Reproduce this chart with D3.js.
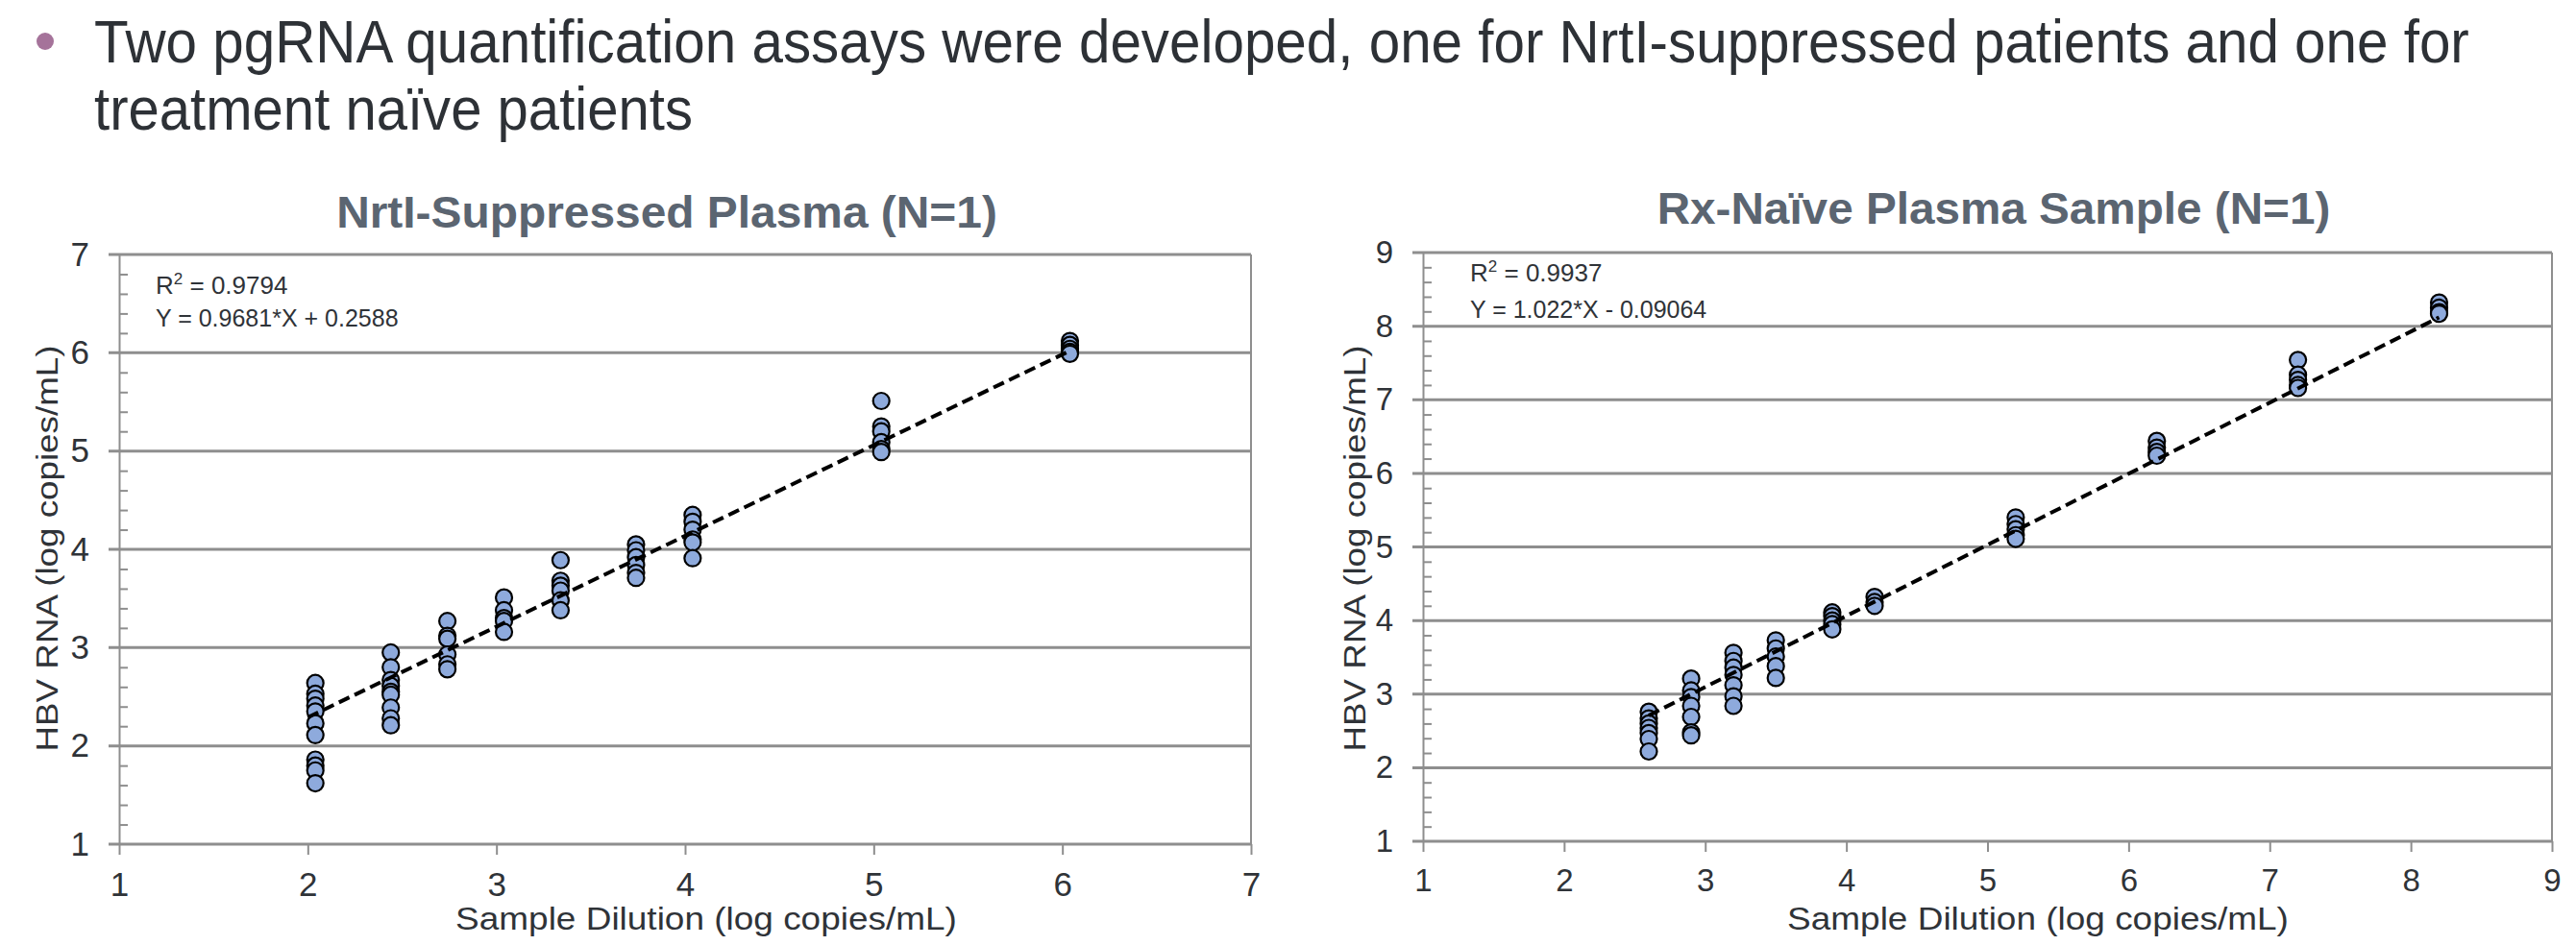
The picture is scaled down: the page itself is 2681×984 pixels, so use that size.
<!DOCTYPE html>
<html>
<head>
<meta charset="utf-8">
<script src="https://cdn.jsdelivr.net/npm/d3@7"></script>
<style>
  body { margin: 0; background: #fff; }
  text { font-family: "Liberation Sans", Arial, sans-serif; }
</style>
</head>
<body>
<svg id="chart"></svg>
<script>
// header bullet text
const headerLines = [
    "Two pgRNA quantification assays were developed, one for NrtI-suppressed patients and one for",
    "treatment naïve patients"
];

// NrtI-suppressed panel: dilution levels and measured values per level
const nrtiDilution = [2.04, 2.44, 2.74, 3.04, 3.34, 3.74, 4.04, 5.04, 6.04];
const nrtiValues = [
    [2.64, 2.53, 2.48, 2.41, 2.35, 2.23, 2.11, 1.86, 1.80, 1.75, 1.62],
    [2.95, 2.80, 2.67, 2.61, 2.55, 2.52, 2.39, 2.28, 2.21],
    [3.27, 3.12, 3.09, 2.93, 2.83, 2.78],
    [3.51, 3.38, 3.30, 3.27, 3.16],
    [3.89, 3.68, 3.63, 3.58, 3.48, 3.38],
    [4.05, 3.99, 3.92, 3.84, 3.76, 3.71],
    [4.35, 4.28, 4.20, 4.10, 4.07, 3.91],
    [5.51, 5.25, 5.20, 5.09, 5.02, 4.99],
    [6.12, 6.08, 6.04, 6.01, 5.99]
];
const nrtiFitX = [2.0, 6.04];
const nrtiFitY = [2.29, 6.02];

// Rx-naive panel
const naiveDilution = [2.6, 2.9, 3.2, 3.5, 3.9, 4.2, 5.2, 6.2, 7.2, 8.2];
const naiveValues = [
    [2.76, 2.67, 2.60, 2.54, 2.47, 2.39, 2.22],
    [3.21, 3.05, 2.96, 2.84, 2.69, 2.48, 2.44],
    [3.56, 3.45, 3.36, 3.26, 3.12, 2.97, 2.84],
    [3.73, 3.62, 3.51, 3.38, 3.22],
    [4.11, 4.06, 4.00, 3.95, 3.88],
    [4.32, 4.25, 4.20],
    [5.40, 5.31, 5.24, 5.16, 5.11],
    [6.44, 6.35, 6.29, 6.24],
    [7.54, 7.34, 7.27, 7.20, 7.16],
    [8.32, 8.25, 8.19, 8.17]
];
const naiveFitX = [2.6, 8.2];
const naiveFitY = [2.71, 8.12];

const panelTitles = ["NrtI-Suppressed Plasma (N=1)", "Rx-Naïve Plasma Sample (N=1)"];
const fitStats = [
    ["0.9794", "Y = 0.9681*X + 0.2588"],
    ["0.9937", "Y = 1.022*X - 0.09064"]
];
const xTitle = "Sample Dilution (log copies/mL)";
const yTitle = "HBV RNA (log copies/mL)";

const gridColor = "#8e8e8e";
const labelColor = "#2f3338";

const svg = d3.select("#chart").attr("width", 2681).attr("height", 984);

// squeeze a text horizontally to a target width (the source slide uses a narrow face)
function fitText(sel, x, y, width, rotate) {
    let natural = sel.node().getComputedTextLength();
    let s = width / natural;
    if (rotate) sel.attr("transform", `translate(${x},${y}) rotate(-90) scale(${s},1)`);
    else sel.attr("transform", `translate(${x},${y}) scale(${s},1)`);
}

// header
svg.append("circle").attr("cx", 47).attr("cy", 43).attr("r", 9).attr("fill", "#a5739a");
headerLines.forEach((line, i) => {
    let t = svg.append("text")
        .attr("font-size", 63)
        .attr("fill", "#2d3136")
        .text(line);
    fitText(t, 98, 65 + i * 70, i == 0 ? 2472 : 623);
});

function drawPanel(cfg) {
    let x = d3.scaleLinear().domain(cfg.xDomain).range([cfg.left, cfg.right]);
    let y = d3.scaleLinear().domain(cfg.yDomain).range([cfg.bottom, cfg.top]);
    let g = svg.append("g");

    let majorY = d3.range(cfg.yDomain[0], cfg.yDomain[1] + 1);
    let minorY = d3.range(cfg.yDomain[0], cfg.yDomain[1], 0.2).filter(v => Math.abs(v - Math.round(v)) > 0.01);

    // horizontal grid lines (extended out as major ticks)
    g.append("g")
        .selectAll("line")
        .data(majorY)
        .join("line")
        .attr("x1", cfg.left - 11)
        .attr("x2", cfg.right)
        .attr("y1", d => y(d))
        .attr("y2", d => y(d))
        .attr("stroke", gridColor)
        .attr("stroke-width", 3);

    // y axis labels
    let yAxis = g.append("g")
        .attr("transform", `translate(${cfg.left},0)`)
        .call(d3.axisLeft(y).tickValues(majorY).tickFormat(d3.format("d")).tickSize(11).tickPadding(20).tickSizeOuter(0));
    yAxis.select(".domain").attr("stroke", gridColor).attr("stroke-width", 2);
    yAxis.selectAll(".tick line").attr("stroke", "none");
    yAxis.selectAll("text").attr("font-size", cfg.tickFont).attr("fill", labelColor);

    // minor ticks inside
    g.append("g")
        .attr("transform", `translate(${cfg.left},0)`)
        .call(d3.axisRight(y).tickValues(minorY).tickSize(9).tickFormat(""))
        .call(a => a.select(".domain").remove())
        .selectAll("line").attr("stroke", gridColor).attr("stroke-width", 2);

    // x axis
    let xAxis = g.append("g")
        .attr("transform", `translate(0,${cfg.bottom})`)
        .call(d3.axisBottom(x).tickValues(d3.range(cfg.xDomain[0], cfg.xDomain[1] + 1)).tickFormat(d3.format("d")).tickSize(11).tickPadding(18).tickSizeOuter(0));
    xAxis.select(".domain").remove();
    xAxis.selectAll(".tick line").attr("stroke", gridColor).attr("stroke-width", 2);
    xAxis.selectAll("text").attr("font-size", cfg.tickFont).attr("fill", labelColor);

    // right border
    g.append("line")
        .attr("x1", x(cfg.xDomain[1])).attr("x2", x(cfg.xDomain[1]))
        .attr("y1", y(cfg.yDomain[1])).attr("y2", y(cfg.yDomain[0]))
        .attr("stroke", gridColor).attr("stroke-width", 2);

    // points
    let points = cfg.dilution.flatMap((dx, i) => cfg.values[i].map(v => ({ x: dx, y: v })));
    g.append("g")
        .selectAll("circle")
        .data(points)
        .join("circle")
        .attr("cx", d => x(d.x))
        .attr("cy", d => y(d.y))
        .attr("r", 8.5)
        .attr("fill", "#8eaadc")
        .attr("stroke", "#000")
        .attr("stroke-width", 2.2);

    // fitted line
    g.append("path")
        .datum(cfg.fitX.map((fx, i) => [fx, cfg.fitY[i]]))
        .attr("d", d3.line().x(d => x(d[0])).y(d => y(d[1])))
        .attr("fill", "none")
        .attr("stroke", "#000")
        .attr("stroke-width", 4)
        .attr("stroke-dasharray", "12,6");

    // title
    let title = g.append("text")
        .attr("text-anchor", "middle")
        .attr("font-size", 46)
        .attr("font-weight", "bold")
        .attr("fill", "#5b6571")
        .text(cfg.title);
    fitText(title, cfg.titleX, cfg.titleY, cfg.titleLen);

    // fit stats
    let r2 = g.append("text")
        .attr("x", cfg.statsX)
        .attr("y", cfg.statsY)
        .attr("font-size", 26)
        .attr("fill", labelColor);
    r2.append("tspan").text("R");
    r2.append("tspan").attr("font-size", 17).attr("dy", -10).text("2");
    r2.append("tspan").attr("dy", 10).text(" = " + cfg.stats[0]);

    g.append("text")
        .attr("x", cfg.statsX)
        .attr("y", cfg.statsY + cfg.statsGap)
        .attr("font-size", 25)
        .attr("fill", labelColor)
        .text(cfg.stats[1]);

    // axis titles
    let xt = g.append("text")
        .attr("text-anchor", "middle")
        .attr("font-size", 33)
        .attr("fill", labelColor)
        .text(xTitle);
    fitText(xt, cfg.xTitleX, 968, 522);

    let yt = g.append("text")
        .attr("text-anchor", "middle")
        .attr("font-size", 31)
        .attr("fill", labelColor)
        .text(yTitle);
    fitText(yt, cfg.yTitleX, 571, 423, true);
}

drawPanel({
    left: 124, right: 1302, top: 265, bottom: 879,
    xDomain: [1, 7], yDomain: [1, 7],
    dilution: nrtiDilution, values: nrtiValues,
    fitX: nrtiFitX, fitY: nrtiFitY,
    title: panelTitles[0], titleX: 694, titleY: 237, titleLen: 688,
    stats: fitStats[0], statsX: 162, statsY: 306, statsGap: 34,
    xTitleX: 735, yTitleX: 60, tickFont: 35
});

drawPanel({
    left: 1481, right: 2656, top: 263, bottom: 876,
    xDomain: [1, 9], yDomain: [1, 9],
    dilution: naiveDilution, values: naiveValues,
    fitX: naiveFitX, fitY: naiveFitY,
    title: panelTitles[1], titleX: 2075, titleY: 233, titleLen: 701,
    stats: fitStats[1], statsX: 1530, statsY: 293, statsGap: 38,
    xTitleX: 2121, yTitleX: 1421, tickFont: 33
});
</script>
</body>
</html>
